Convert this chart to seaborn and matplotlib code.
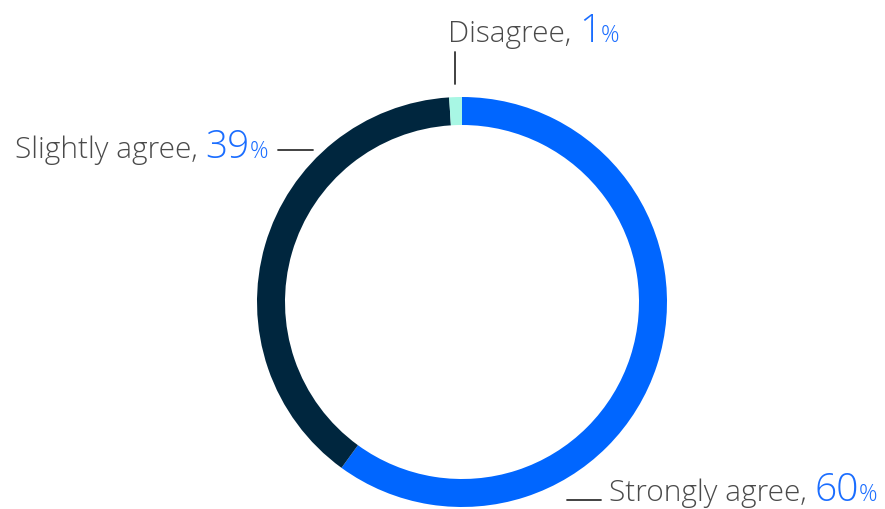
import matplotlib
matplotlib.use("Agg")
import matplotlib.pyplot as plt
import seaborn as sns

# data
categories = ["Strongly agree", "Slightly agree", "Disagree"]
shares = [60, 39, 1]
slice_colors = ["#0066FF", "#00263E", "#A8F7E4"]

W, H = 885, 509
sns.set_theme(style="white")
plt.rcParams["font.family"] = ["Open Sans", "DejaVu Sans"]

fig = plt.figure(figsize=(W / 100, H / 100), dpi=100)
ax = fig.add_axes([0, 0, 1, 1])

# donut, starting at 12 o'clock going clockwise
cx, cy, r = 462, H - 302, 205
ax.pie(shares, colors=slice_colors, startangle=90, counterclock=False,
       center=(cx, cy), radius=r, frame=True,
       wedgeprops=dict(width=28, edgecolor="none"))
ax.set_xlim(0, W)
ax.set_ylim(0, H)
ax.set_aspect("equal")
ax.axis("off")

renderer = fig.canvas.get_renderer()


def label(x, y_px, name, pct):
    # write "name, NN%" as three pieces that share one baseline
    parts = [(name + ", ", 21.5, "#4A4A4A"),
             (str(pct), 28, "#1A6DFF"),
             ("%", 16.5, "#1A6DFF")]
    for txt, size, col in parts:
        t = ax.text(x, H - y_px, txt, fontsize=size, color=col,
                    fontweight="light", va="baseline", ha="left")
        bb = t.get_window_extent(renderer)
        x = bb.x1


# leader lines
line_kw = dict(color="#333333", lw=1.3)
ax.plot([455, 455], [H - 52, H - 84], **line_kw)
ax.plot([278, 313], [H - 150, H - 150], **line_kw)
ax.plot([567, 601], [H - 500, H - 500], **line_kw)

label(448, 42, categories[2], shares[2])
label(15, 158, categories[1], shares[1])
label(609, 501, categories[0], shares[0])

fig.savefig("out.png", dpi=100)
